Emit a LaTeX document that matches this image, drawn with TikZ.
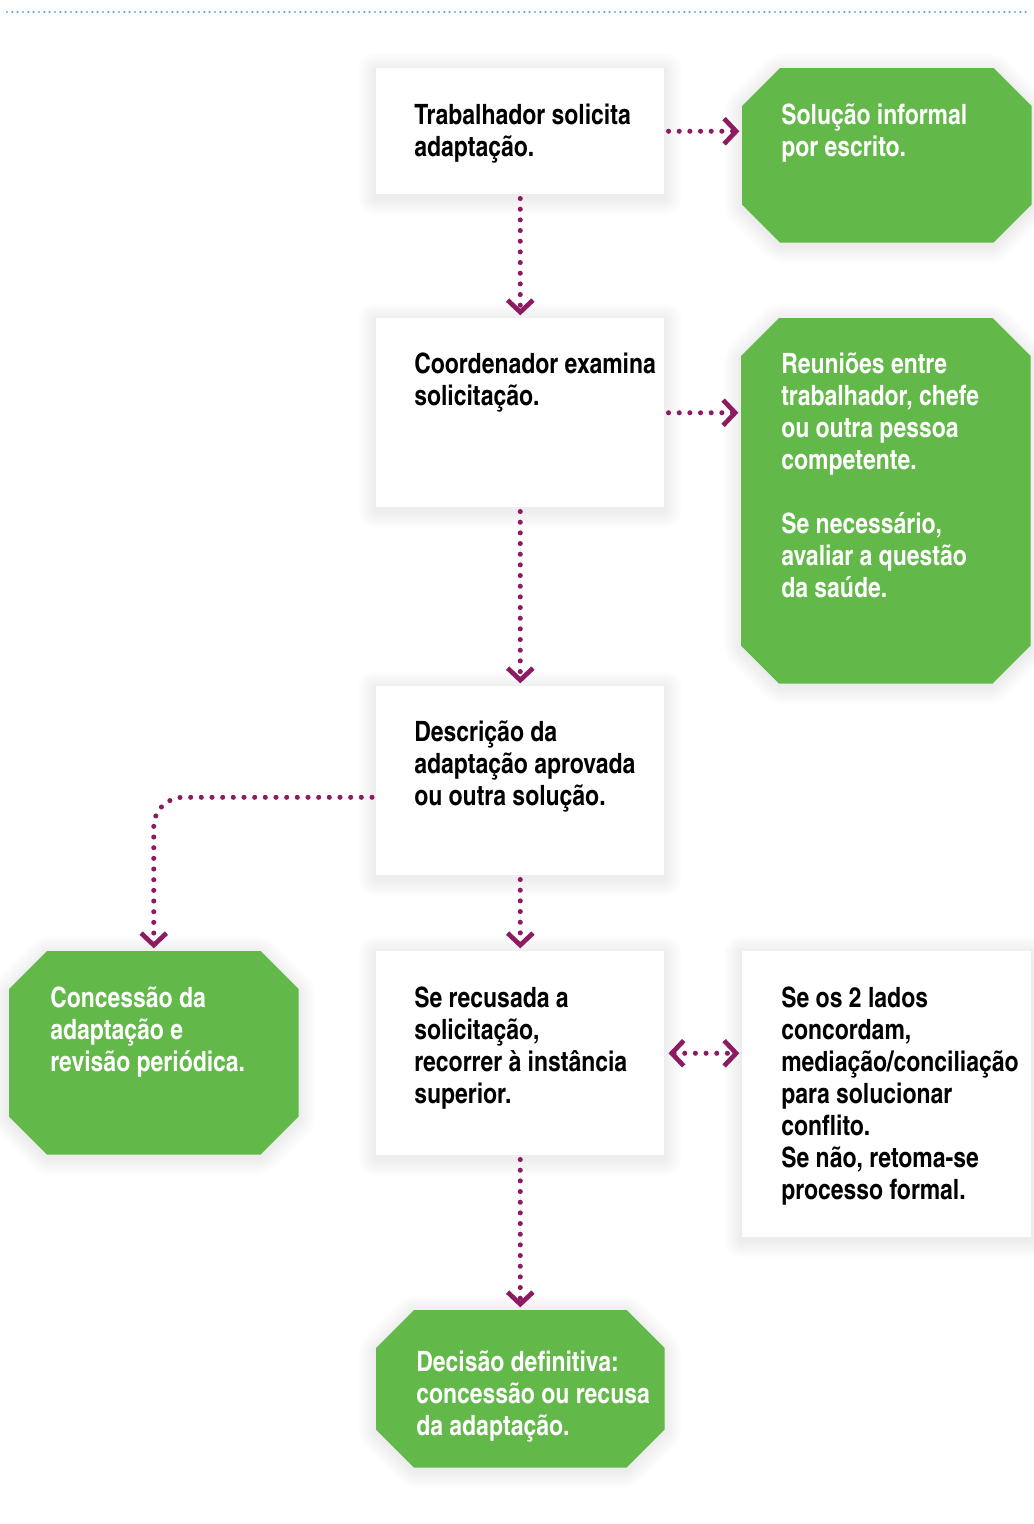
\documentclass[tikz,border=0pt]{standalone}
\usepackage{fontspec}
\setmainfont{texgyreheroscn-bold.otf}
\usetikzlibrary{arrows.meta,calc}
\definecolor{grn}{RGB}{98,184,72}
\definecolor{pur}{RGB}{140,27,98}
\definecolor{blu}{RGB}{95,175,225}
\tikzset{
 wbox/.style={rectangle, fill=white, inner sep=0pt, anchor=north west},
 gbox/.style={rectangle, inner sep=0pt, anchor=north west},
 lbl/.style={anchor=north west, inner sep=0pt, align=left, font=\fontsize{21pt}{24pt}\selectfont, execute at begin node=\strut},
 wlbl/.style={lbl, text=white},
 conn/.style={draw=pur, line width=3.8pt, line cap=round, dash pattern=on 0pt off 8pt, shorten <=3pt, shorten >=2pt},
 arw/.style={-{Straight Barb[length=9pt,width=19pt,line width=3.5pt]}},
 arwb/.style={{Straight Barb[length=9pt,width=19pt,line width=3.5pt]}-{Straight Barb[length=9pt,width=19pt,line width=3.5pt]}},
}
\newcommand\shad[4]{\foreach \d in {2,4,...,18}{\fill[black,opacity=0.007,rounded corners=\d*0.75pt] (#1-\d,#2-\d+3) rectangle (#1+#3+\d,#2+#4+\d+3);}}
\newcommand\oshad[4]{\foreach \d in {2,4,...,18}{\fill[black,opacity=0.007,rounded corners=\d*0.5pt]
 (#1+38-\d*0.4,#2-\d+3) -- (#1+#3-38+\d*0.4,#2-\d+3) -- (#1+#3+\d,#2+38+3-\d*0.4) -- (#1+#3+\d,#2+#4-38+3+\d*0.4) -- (#1+#3-38+\d*0.4,#2+#4+\d+3) -- (#1+38-\d*0.4,#2+#4+\d+3) -- (#1-\d,#2+#4-38+3+\d*0.4) -- (#1-\d,#2+38+3-\d*0.4) -- cycle;}}
\newcommand\wbx[5]{\node[wbox, minimum width=#4*0.75pt, minimum height=#5*0.75pt] (#1) at (#2,#3) {};}
\newcommand\gbx[5]{\node[gbox, minimum width=#4*0.75pt, minimum height=#5*0.75pt] (#1) at (#2,#3) {};
 \fill[grn] ([xshift=28.5pt]#1.north west) -- ([xshift=-28.5pt]#1.north east) -- ([yshift=-28.5pt]#1.north east) -- ([yshift=28.5pt]#1.south east) -- ([xshift=-28.5pt]#1.south east) -- ([xshift=28.5pt]#1.south west) -- ([yshift=28.5pt]#1.south west) -- ([yshift=-28.5pt]#1.north west) -- cycle;}
\begin{document}
\begin{tikzpicture}[x=0.75pt,y=-0.75pt]
\useasboundingbox (0,0) rectangle (1034,1524);
\fill[white] (0,0) rectangle (1034,1524);
\draw[blu, line width=1.8pt, line cap=round, dash pattern=on 0pt off 4pt] (7,12) -- (1030,12);
% shadows
\shad{376}{68}{288}{126}
\oshad{742}{68}{289}{174}
\shad{376}{318}{288}{189}
\oshad{741}{318}{289}{365}
\shad{376}{686}{288}{189}
\oshad{9}{951}{289}{203}
\shad{376}{951}{288}{204}
\shad{742}{951}{289}{286}
\oshad{376}{1310}{288}{157}
% boxes
\wbx{A}{376}{68}{288}{126}
\gbx{G1}{742}{68}{289}{174}
\wbx{B}{376}{318}{288}{189}
\gbx{G2}{741}{318}{289}{365}
\wbx{C}{376}{686}{288}{189}
\gbx{G3}{9}{951}{289}{203}
\wbx{D}{376}{951}{288}{204}
\wbx{E}{742}{951}{289}{286}
\gbx{G4}{376}{1310}{288}{157}
% labels
\node[lbl] (tA) at (414,103.5) {Trabalhador solicita\\adaptação.};
\node[wlbl] (tG1) at (781,103.5) {Solução informal\\por escrito.};
\node[lbl] (tB) at (414,352.5) {Coordenador examina\\solicitação.};
\node[wlbl] (tG2) at (781,352.5) {Reuniões entre\\trabalhador, chefe\\ou outra pessoa\\competente.\\[24pt]Se necessário,\\avaliar a questão\\da saúde.};
\node[lbl] (tC) at (414,720.5) {Descrição da\\adaptação aprovada\\ou outra solução.};
\node[wlbl] (tG3) at (50,986.5) {Concessão da\\adaptação e\\revisão periódica.};
\node[lbl] (tD) at (414,986.5) {Se recusada a\\solicitação,\\recorrer à instância\\superior.};
\node[lbl] (tE) at (781,986.5) {Se os 2 lados\\concordam,\\mediação/conciliação\\para solucionar\\conflito.\\Se não, retoma-se\\processo formal.};
\node[wlbl] (tG4) at (416,1350.5) {Decisão definitiva:\\concessão ou recusa\\da adaptação.};
% connectors
\draw[conn,arw] (A.south) -- (B.north);
\draw[conn,arw] (A.east) -- (A.east -| G1.west);
\draw[conn,arw] (B.east) -- (B.east -| G2.west);
\draw[conn,arw] (B.south) -- (C.north);
\draw[conn,arw,rounded corners=22pt] ([yshift=-12.4pt]C.west) -| (G3.north);
\draw[conn,arw] (C.south) -- (D.north);
\draw[conn,arwb] (D.east) -- (D.east -| E.west);
\draw[conn,arw] (D.south) -- (G4.north);
\end{tikzpicture}
\end{document}
